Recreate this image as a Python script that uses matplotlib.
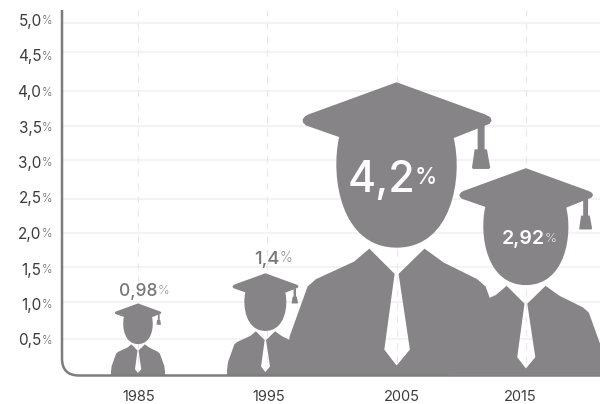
import matplotlib
matplotlib.use("Agg")
import matplotlib.pyplot as plt
from matplotlib.path import Path
from matplotlib.patches import PathPatch

# chart values
years = [1985, 1995, 2005, 2015]
values = [0.98, 1.4, 4.2, 2.92]
value_labels = ["0,98", "1,4", "4,2", "2,92"]
# the icons are not quite to scale with their labels, heights and centres as read off the picture
icon_heights = [1.015, 1.44, 4.13, 2.92]
icon_years = [1985, 1994.85, 2005, 2015]
y_ticks = [0.5, 1.0, 1.5, 2.0, 2.5, 3.0, 3.5, 4.0, 4.5, 5.0]
y_tick_labels = ["0,5", "1,0", "1,5", "2,0", "2,5", "3,0", "3,5", "4,0", "4,5", "5,0"]
# the gridlines are a bit off the labels in the picture
grid_levels = [0.52, 1.03, 1.53, 2.01, 2.49, 3.04, 3.52, 4.01, 4.55, 4.97]

GREY = "#868486"
FONT = "Inter"

W, H = 600, 404
PX_YEAR = 12.93    # pixels per year
PX_VAL = 71.0      # pixels per 1%
X0 = 1985 - (138 - 62) / PX_YEAR
BASE_PX = 375.5


def px_x(px):
    return 1985 + (px - 138) / PX_YEAR


def px_y(py):
    return (BASE_PX - py) / PX_VAL


# graduate icon, outline traced at 883 units high with its centre at 318, top at 35
CAP = [(318, 35), (585, 132), (600, 140), (604, 150), (598, 160), (490, 203),
       (145, 200), (45, 165), (36, 156), (35, 147), (42, 138), (52, 132)]
TASSEL = [(562, 172), (583, 164), (583, 237), (590, 237), (600, 292), (596, 296),
          (548, 296), (545, 292), (553, 237), (562, 237)]
BODY = [(236, 536), (312, 612), (281, 840), (318, 888), (358, 840), (324, 612),
        (402, 536), (460, 578), (561, 628), (586, 650), (640, 800), (649, 870),
        (649, 918), (-13, 918), (-13, 870), (-4, 800), (50, 650), (75, 628),
        (190, 575)]
HEAD = [(150, 170), (145, 200), (118, 320), (150, 533), (318, 533), (486, 533),
        (518, 320), (490, 203), (485, 170)]


def icon_paths(year, height):
    def conv(pts):
        # the icon keeps its shape, both sizes follow the height
        k = height / 883.0
        return [(year + (x - 318) * k * PX_VAL / PX_YEAR, (918 - y) * k) for x, y in pts]

    paths = []
    for pts in (CAP, TASSEL, BODY):
        v = conv(pts)
        paths.append(Path(v + [v[0]], [Path.MOVETO] + [Path.LINETO] * (len(v) - 1) + [Path.CLOSEPOLY]))
    paths.append(Path(conv(HEAD), [Path.MOVETO, Path.LINETO] + [Path.CURVE4] * 6 + [Path.LINETO]))
    return paths


def pct_label(px, py, num, size, color, weight="normal", ratio=0.72, pct_shift=0):
    # number and smaller % meet at pixel px
    ax.text(px_x(px), px_y(py), num, ha="right", va="center_baseline", fontsize=size,
            color=color, weight=weight, family=FONT, zorder=6, clip_on=False)
    ax.text(px_x(px + pct_shift), px_y(py), "%", ha="left", va="center_baseline", fontsize=size * ratio,
            color=color, weight="light" if size < 16 else weight, family=FONT, zorder=6, clip_on=False)


fig = plt.figure(figsize=(W / 100, H / 100), dpi=100)
ax = fig.add_axes([62 / W, (H - BASE_PX) / H, (W - 62) / W, (BASE_PX - 10) / H])
ax.set_xlim(X0, X0 + (W - 62) / PX_YEAR)
ax.set_ylim(0, (BASE_PX - 10) / PX_VAL)
ax.axis("off")

# grid
for g in grid_levels:
    ax.plot([X0, ax.get_xlim()[1]], [g, g], color="#f3f3f3", lw=1.5, zorder=1)
for year in years:
    ax.plot([year, year], [0, ax.get_ylim()[1]], color="#e8e8e8", lw=0.8,
            dashes=(6, 6), zorder=1)

# figures, 2015 goes over the baseline and the others under it
for year, height in zip(icon_years, icon_heights):
    z = 4 if year == 2015 else 2
    for p in icon_paths(year, height):
        ax.add_patch(PathPatch(p, facecolor=GREY, edgecolor="none", zorder=z, clip_on=False))

# rounded axis line
rx = 17 / PX_YEAR
ry = 17 / PX_VAL
axis_path = Path([(X0, ax.get_ylim()[1]), (X0, ry), (X0, 0), (X0 + rx, 0), (ax.get_xlim()[1], 0)],
                 [Path.MOVETO, Path.LINETO, Path.CURVE3, Path.CURVE3, Path.LINETO])
ax.add_patch(PathPatch(axis_path, facecolor="none", edgecolor="#7d7d7d", lw=1.8, zorder=3, clip_on=False))

# y labels
for tick, label in zip(y_ticks, y_tick_labels):
    py = BASE_PX - 71 * tick - 0.5
    pct_label(41.5, py, label, 11, "#3c3c3c", ratio=0.76)

# x labels
label_px = [139, 269, 402, 520]
for lx, year in zip(label_px, years):
    ax.text(px_x(lx), px_y(395.5), str(year), ha="center", va="center_baseline", fontsize=10.5,
            color="#3c3c3c", family=FONT, clip_on=False)

# value labels
pct_label(157.5, 290, value_labels[0], 12.5, "#77757a", weight="medium", ratio=0.75)
pct_label(279.5, 257, value_labels[1], 13.5, "#77757a", weight="medium", ratio=0.75)
pct_label(416, 176, value_labels[2], 31, "white", weight="medium", ratio=0.52, pct_shift=-1)
pct_label(544.5, 237, value_labels[3], 14, "white", weight="semibold", ratio=0.68)

fig.savefig("out.png", dpi=100)
